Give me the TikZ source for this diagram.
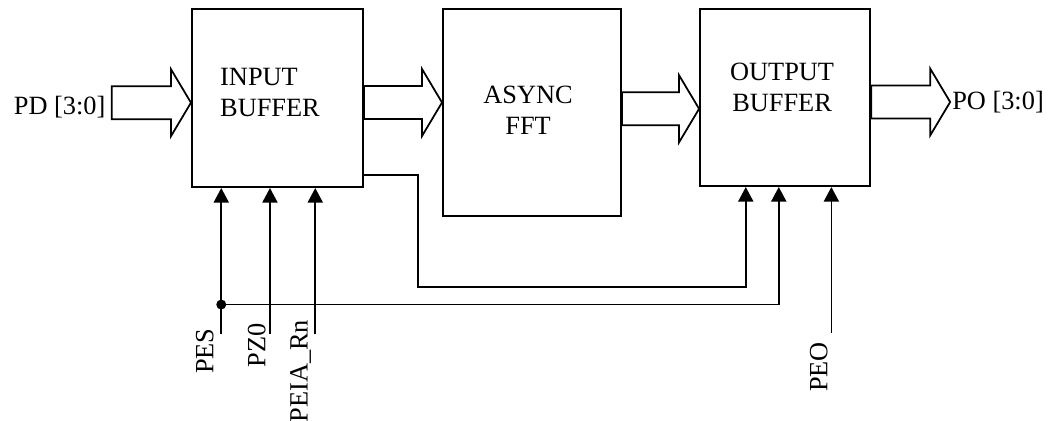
\documentclass[tikz,border=0pt]{standalone}
\usepackage{fontspec}
\setmainfont{Liberation Serif}
\usepackage{tikz}
\usetikzlibrary{
  arrows.meta,
  positioning,
  calc
}
\tikzset{
  blk/.style={draw, line width=1.2pt, minimum width=3.42cm, minimum height=3.56cm, inner sep=0pt},
  txt/.style={font=\fontsize{15}{17.6}\selectfont, align=center},
  sig/.style={txt, rotate=90, anchor=south east, inner sep=0pt},
  bus/.style={draw, line width=1pt, fill=white, line join=miter},
  ctl/.style={line width=1pt, -{Triangle[length=2.9mm, width=3mm]}}
}
\newcommand{\busarrow}[2]{%
  \path[bus] let \p1=(#1), \p2=(#2) in
    (\x1,\y1+0.33cm) -- (\x2-0.4cm,\y1+0.33cm) -- (\x2-0.4cm,\y1+0.67cm)
    -- (\x2,\y1) -- (\x2-0.4cm,\y1-0.67cm) -- (\x2-0.4cm,\y1-0.33cm)
    -- (\x1,\y1-0.33cm) -- cycle;}
\begin{document}
\begin{tikzpicture}[x=0.02cm, y=-0.02cm]
  \useasboundingbox (0,0) rectangle (1051,420);
  \node[blk] (inbuf) at (277.5,98) {};
  \node[blk, minimum width=3.56cm, minimum height=4.14cm, right=1.56cm of inbuf.north east, anchor=north west] (fft) {};
  \node[blk, minimum width=3.4cm, minimum height=3.54cm, right=1.54cm of fft.north east, anchor=north west] (outbuf) {};
  \node[txt, align=left] (intxt) at ($(inbuf.center)+(-7.5,-5.6)$) {INPUT\\BUFFER};
  \node[txt] (ffttxt) at ($(fft.center)+(-4,-2.5)$) {ASYNC\\FFT};
  \node[txt] (outtxt) at ($(outbuf.center)+(-3,-10)$) {OUTPUT\\BUFFER};

  \node[txt, anchor=east] (pd) at ($(inbuf.west)+(-79.3,9)$) {PD [3:0]};
  \node[txt, anchor=west, inner sep=1pt] (po) at ($(outbuf.east)+(79,4.5)$) {PO [3:0]};
  \busarrow{$(pd.east)+(0,-4.3)$}{inbuf.west}
  \busarrow{$(inbuf.east)+(0,4.5)$}{fft.west}
  \busarrow{$(fft.east)+(0,-3.7)$}{outbuf.west}
  \busarrow{$(outbuf.east)+(0,4.5)$}{po.west}

  \coordinate (pesin) at ($(inbuf.south west)+(30.3,146)$);
  \coordinate (pz0in) at ($(inbuf.south west)+(79,146)$);
  \coordinate (peiain) at ($(inbuf.south west)+(124.3,146)$);
  \coordinate (peoin) at ($(outbuf.south west)+(132.3,146)$);
  \coordinate (tap) at ($(pesin)+(0,-29.5)$);
  \node[sig] (pes) at ($(pesin)+(-7.3,-6)$) {PES};
  \node[sig] (pz0) at ($(pz0in)+(-4,-11)$) {PZ0};
  \node[sig] (peia) at ($(peiain)+(-4,-14.4)$) {PEIA\_Rn};
  \node[sig] (peo) at ($(peoin)+(-3.3,8.7)$) {PEO};

  \draw[ctl] (pesin) -- (pesin |- inbuf.south);
  \draw[ctl] (pz0in) -- (pz0in |- inbuf.south);
  \draw[ctl] (peiain) -- (peiain |- inbuf.south);
  \draw[ctl] (peoin) -- (peoin |- outbuf.south);
  \draw[ctl] ($(inbuf.south east)+(0,-12.7)$) -| ($(inbuf.south east)+(53.7,98.7)$) -| ($(outbuf.south west)+(46.7,0)$);
  \draw[ctl] (tap) -| ($(outbuf.south west)+(79.7,0)$);
  \fill (tap) circle[radius=0.1cm];
\end{tikzpicture}
\end{document}
